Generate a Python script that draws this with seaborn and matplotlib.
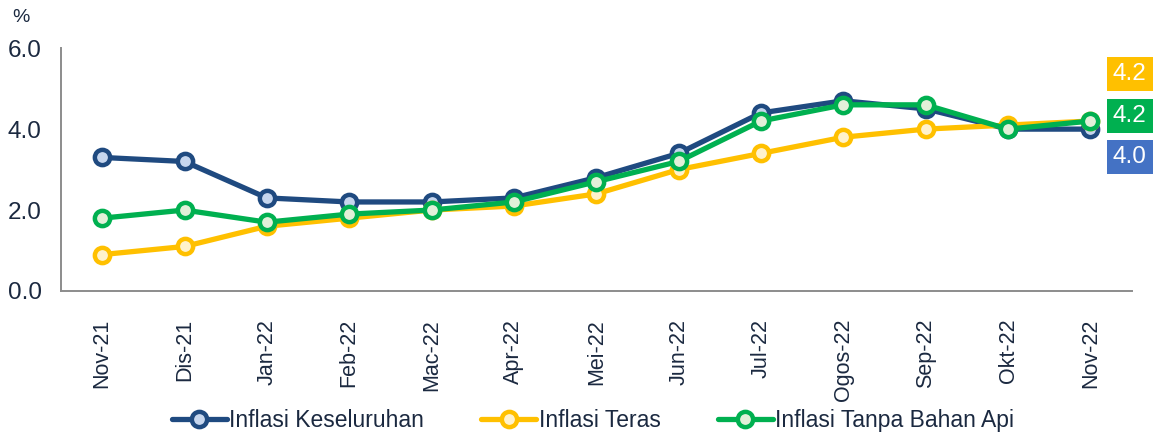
import matplotlib
matplotlib.use("Agg")
import matplotlib.pyplot as plt
import seaborn as sns
import numpy as np
import pandas as pd

bulan = ["Nov-21", "Dis-21", "Jan-22", "Feb-22", "Mac-22", "Apr-22", "Mei-22",
         "Jun-22", "Jul-22", "Ogos-22", "Sep-22", "Okt-22", "Nov-22"]
keseluruhan = [3.3, 3.2, 2.3, 2.2, 2.2, 2.3, 2.8, 3.4, 4.4, 4.7, 4.5, 4.0, 4.0]
teras = [0.9, 1.1, 1.6, 1.8, 2.0, 2.1, 2.4, 3.0, 3.4, 3.8, 4.0, 4.1, 4.2]
tanpa_api = [1.8, 2.0, 1.7, 1.9, 2.0, 2.2, 2.7, 3.2, 4.2, 4.6, 4.6, 4.0, 4.2]
nama_seri = ["Inflasi Keseluruhan", "Inflasi Teras", "Inflasi Tanpa Bahan Api"]

sns.set_style("white")
plt.rcParams['font.family'] = ['Liberation Sans', 'DejaVu Sans']
txt = "#1b2940"

df = pd.DataFrame({"pos": np.arange(len(bulan)),
                   nama_seri[0]: keseluruhan,
                   nama_seri[1]: teras,
                   nama_seri[2]: tanpa_api})

warna = {nama_seri[0]: ("#1f4a80", "#c6d6ee"),
         nama_seri[1]: ("#ffc000", "#fff2cc"),
         nama_seri[2]: ("#00b050", "#e2f0d9")}

fig = plt.figure(figsize=(11.57, 4.34), dpi=100)
ax = fig.add_axes([0.0527, 0.3295, 0.9253, 0.5595])

for s in nama_seri:
    line_c, face_c = warna[s]
    sns.lineplot(data=df, x="pos", y=s, ax=ax, color=line_c, linewidth=3.8,
                 marker="o", markersize=11, markerfacecolor=face_c,
                 markeredgecolor=line_c, markeredgewidth=3.2, label=s)

ax.set_xlim(-0.5, len(bulan) - 0.5)
ax.set_ylim(0, 6)
ax.set_yticks([0, 2, 4, 6])
ax.set_yticklabels(["0.0", "2.0", "4.0", "6.0"])
ax.set_xticks(np.arange(len(bulan)))
ax.set_xticklabels(bulan, rotation=90)
ax.set_xticks(np.arange(-0.5, len(bulan) - 1, 2), minor=True)
ax.tick_params(axis="x", which="major", length=0, pad=20, labelsize=15.5, labelcolor=txt)
ax.tick_params(axis="x", which="minor", length=6, width=1.2, color="#888888", direction="out")
ax.tick_params(axis="y", length=6, width=1.2, color="#888888", direction="out",
               labelsize=17.5, labelcolor=txt, pad=8)
ax.set_xlabel("")
ax.set_ylabel("")
for sp in ["top", "right"]:
    ax.spines[sp].set_visible(False)
for sp in ["left", "bottom"]:
    ax.spines[sp].set_color("#8c8c8c")
    ax.spines[sp].set_linewidth(1.4)

fig.text(0.011, 0.96, "%", fontsize=14, color=txt, ha="left", va="center")

# kotak nilai terakhir
kotak = [(teras[-1], "#ffc000", 0.829), (tanpa_api[-1], "#00b050", 0.732),
         (keseluruhan[-1], "#4472c4", 0.638)]
for v, c, yy in kotak:
    fig.text(0.9765, yy, f"{v:.1f}", fontsize=17.5, color="white", ha="center", va="center",
             bbox=dict(boxstyle="square,pad=0.25", fc=c, ec="none"))

leg = ax.legend(loc="center", bbox_to_anchor=(0.497, -0.535), ncol=3, frameon=False,
                fontsize=16.5, handlelength=2.4, columnspacing=2.5, handletextpad=0.1,
                labelcolor=txt)

fig.savefig("out.png", dpi=100)
